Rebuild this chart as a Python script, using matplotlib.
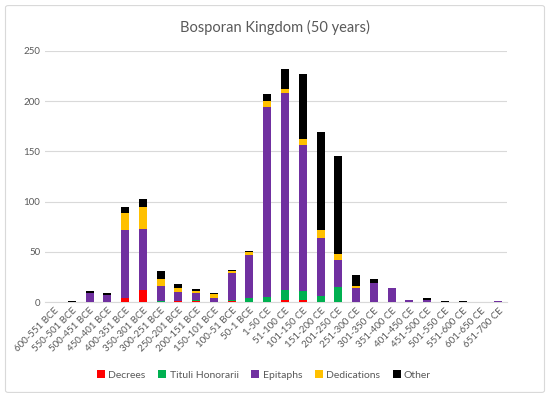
import numpy as np
import matplotlib.pyplot as plt
from matplotlib.patches import FancyBboxPatch

plt.rcParams['font.family'] = ['Lato', 'DejaVu Sans']

periods = ["600-551 BCE", "550-501 BCE", "500-451 BCE", "450-401 BCE", "400-351 BCE",
           "350-301 BCE", "300-251 BCE", "250-201 BCE", "200-151 BCE", "150-101 BCE",
           "100-51 BCE", "50-1 BCE", "1-50 CE", "51-100 CE", "101-150 CE", "151-200 CE",
           "201-250 CE", "251-300 CE", "301-350 CE", "351-400 CE", "401-450 CE",
           "451-500 CE", "501-550 CE", "551-600 CE", "601-650 CE", "651-700 CE"]

decrees     = [0, 0, 0, 0, 4, 12, 0, 1, 1, 0, 1, 0, 0, 2, 2, 0, 0, 0, 0, 0, 0, 0, 0, 0, 0, 0]
tituli      = [0, 0, 0, 0, 0, 0, 1, 0, 1, 0, 1, 4, 5, 10, 9, 6, 15, 0, 0, 0, 0, 0, 0, 0, 0, 0]
epitaphs    = [0, 0, 9, 7, 68, 61, 15, 9, 7, 4, 27, 43, 189, 196, 145, 58, 27, 14, 19, 14, 2, 2, 0, 0, 0, 1]
dedications = [0, 0, 0, 0, 17, 22, 7, 4, 2, 4, 2, 3, 6, 4, 6, 8, 6, 2, 0, 0, 0, 0, 0, 0, 0, 0]
other       = [0, 1, 2, 2, 6, 8, 8, 4, 2, 1, 1, 1, 7, 20, 65, 97, 97, 11, 4, 0, 0, 2, 1, 1, 0, 0]

series = [("Decrees", decrees, "#FF0000"),
          ("Tituli Honorarii", tituli, "#00B050"),
          ("Epitaphs", epitaphs, "#7030A0"),
          ("Dedications", dedications, "#FFC000"),
          ("Other", other, "#000000")]

fig = plt.figure(figsize=(5.5, 3.98), dpi=100)
ax = fig.add_axes([0.082, 0.241, 0.840, 0.631])

x = np.arange(len(periods))
bottom = np.zeros(len(periods))
for name, vals, col in series:
    vals = np.array(vals, dtype=float)
    ax.bar(x, vals, 0.45, bottom=bottom, color=col, label=name, zorder=3)
    bottom += vals

ax.set_xlim(-0.5, len(periods) - 0.5)
ax.set_ylim(0, 250)
ax.set_yticks(range(0, 251, 50))
ax.yaxis.grid(True, color="#D9D9D9", linewidth=0.8, zorder=0)
for s in ["top", "right", "left"]:
    ax.spines[s].set_visible(False)
ax.spines["bottom"].set_color("#D9D9D9")
ax.tick_params(length=0, colors="#595959", labelsize=7)
ax.set_xticks(x)
ax.set_xticklabels(periods, rotation=45, ha="right", rotation_mode="anchor")
ax.tick_params(axis="x", pad=3)

fig.text(0.5, 0.932, "Bosporan Kingdom (50 years)", ha="center", va="center",
         fontsize=10.5, color="#595959")

fig.legend(loc="center", bbox_to_anchor=(0.48, 0.058), ncol=5, frameon=False,
           fontsize=7.5, labelcolor="#595959", handlelength=0.8, handleheight=0.8,
           handletextpad=0.3, columnspacing=1.2)

border = FancyBboxPatch((0.01, 0.014), 0.98, 0.972, boxstyle="round,pad=0,rounding_size=0.005",
                        transform=fig.transFigure, fill=False, edgecolor="#D9D9D9", linewidth=0.8)
fig.patches.append(border)

fig.savefig("out.png", dpi=100)
